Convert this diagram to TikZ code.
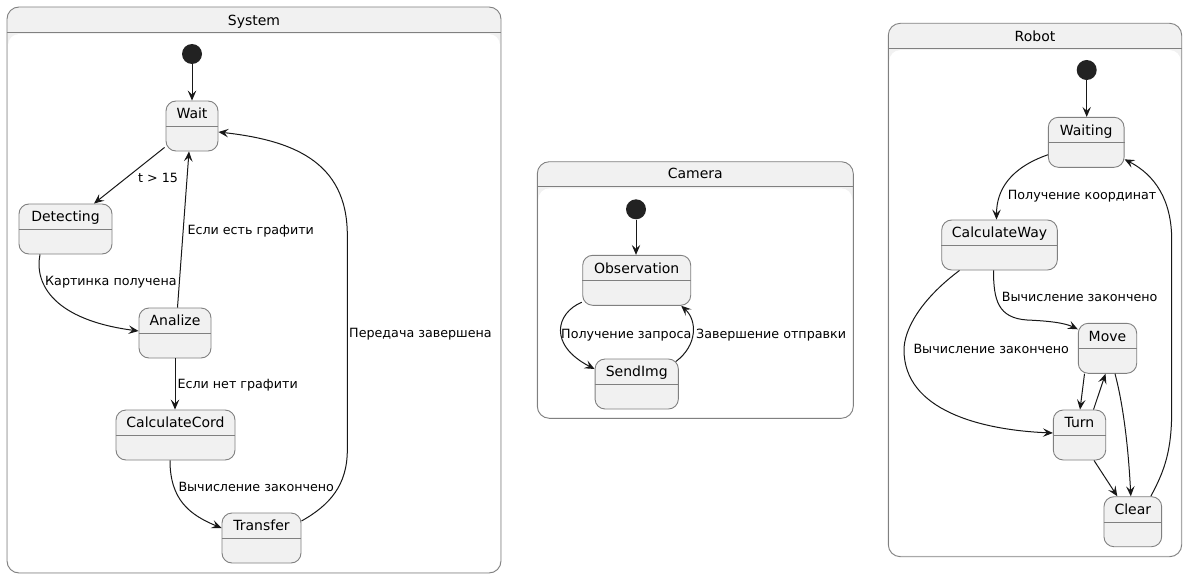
\documentclass[tikz,border=0pt]{standalone}
\usepackage{fontspec}
\setmainfont{DejaVu Sans}
\usetikzlibrary{arrows.meta,calc}
\definecolor{stfill}{HTML}{F1F1F1}
\definecolor{ink}{HTML}{181818}
\definecolor{edge}{HTML}{808080}
\definecolor{dotc}{HTML}{222222}

\tikzset{
  stbody/.style={draw=edge, line width=0.9pt, fill=stfill, rounded corners=10pt,
                 minimum height=50pt, inner sep=0pt},
  sttext/.style={anchor=base, inner sep=0pt, font=\fontsize{14}{16}\selectfont},
  sepline/.style={draw=edge, line width=0.9pt},
  initdot/.style={circle, fill=dotc, minimum size=20pt, inner sep=0pt},
  trans/.style={draw=ink, line width=1pt, -{Stealth[length=10pt,width=8.5pt,inset=4pt]}},
  lbl/.style={anchor=base west, inner sep=0pt, font=\fontsize{12.7}{15}\selectfont},
  contbox/.style={draw=edge, line width=0.9pt, fill=stfill, rounded corners=12pt, inner sep=0pt},
  conttitle/.style={anchor=base, inner sep=0pt, font=\fontsize{14}{16}\selectfont},
}

% state: name, centre x, top y, width, title
\newcommand\mkstate[5]{%
  \node[stbody, minimum width=#4pt] (#1) at (#2,#3+25) {};
  \draw[sepline] ([yshift=-26pt]#1.north west) -- ([yshift=-26pt]#1.north east);
  \node[sttext] (#1-name) at ([yshift=-18.3pt]#1.north) {#5};
}
% composite state: name, x1, y1, x2, y2, header y, title, title baseline
\newcommand\mkcont[8]{%
  \node[contbox, minimum width={#4-#2}, minimum height={#5-#3}] (#1) at ({(#2+#4)/2},{(#3+#5)/2}) {};
  \fill[white, rounded corners=11pt] ($(#1.north west)+(1.5,#6-#3+1.5)$) rectangle ($(#1.south east)+(-1.5,-1.5)$);
  \draw[sepline] ($(#1.north west)+(0,#6-#3)$) -- ($(#1.north east)+(0,#6-#3)$);
  \node[conttitle] (#1-title) at ($(#1.north)+(0,#8-#3)$) {#7};
}

\begin{document}
\begin{tikzpicture}[x=1pt,y=-1pt]
\useasboundingbox (0,0) rectangle (1188,578);

% composite states
\mkcont{sys}{7}{7}{501}{573}{33}{System}{26}
\mkcont{cam}{537.3}{161.7}{853.3}{418.3}{187.3}{Camera}{179.3}
\mkcont{rob}{888.3}{23.3}{1181.7}{556.7}{49}{Robot}{41.7}

% System
\node[initdot] (s0) at (192,54) {};
\mkstate{wait}{192}{101}{52}{Wait}
\mkstate{det}{65.5}{204}{93}{Detecting}
\mkstate{ana}{175}{308}{72}{Analize}
\mkstate{cc}{175.5}{410}{119}{CalculateCord}
\mkstate{trf}{261.5}{513}{79}{Transfer}

\draw[trans] (s0) -- (wait);
\draw[trans] ([xshift=-1pt,yshift=4pt]wait.south west) -- ([xshift=28.5pt]det.north);
\node[lbl] (l1) at (138,182.3) {t > 15};
\draw[trans] ([xshift=-25.5pt]det.south) .. controls (34,285) and (55,320) .. ([yshift=2pt]ana.west);
\node[lbl] (l2) at (45,285.7) {Картинка получена};
\draw[trans] ([xshift=2.5pt]ana.north) -- ([xshift=-3pt]wait.south);
\node[lbl] (l3) at (187.3,234.7) {Если есть графити};
\draw[trans] (ana.south) -- (ana.south |- cc.north);
\node[lbl] (l4) at (177.3,388.7) {Если нет графити};
\draw[trans] ([xshift=-5.5pt]cc.south) .. controls (170,500) and (190,515) .. ([yshift=10pt]trf.west);
\node[lbl] (l5) at (178.3,491.3) {Вычисление закончено};
\draw[trans] ([yshift=17pt]trf.east) .. controls (330,505) and (347.3,485) .. (347.3,450)
  -- (347.3,235) .. controls (347.3,160) and (290,140) .. ([yshift=-6pt]wait.east);
\node[lbl] (l6) at (349,337.3) {Передача завершена};

% Camera
\node[initdot] (c0) at (636,209.3) {};
\mkstate{obs}{636.7}{255.3}{108}{Observation}
\mkstate{send}{636.7}{359}{83.3}{SendImg}

\draw[trans] (c0.south) -- (c0.south |- obs.north);
\draw[trans] ([xshift=-0.5pt,yshift=3.5pt]obs.south west) .. controls (556,313) and (548,345) .. ([yshift=15pt]send.west);
\node[lbl] (l7) at (561,338.3) {Получение запроса};
\draw[trans] ([xshift=-3pt,yshift=-3pt]send.north east) .. controls (698,345) and (697,320) .. ([xshift=-10pt]obs.south east);
\node[lbl] (l8) at (696,338.3) {Завершение отправки};

% Robot
\node[initdot] (r0) at (1086.7,70) {};
\mkstate{wtg}{1086.2}{117.3}{75.7}{Waiting}
\mkstate{cw}{999.5}{220}{115.6}{CalculateWay}
\mkstate{mv}{1107.5}{323.3}{58.4}{Move}
\mkstate{tn}{1079.5}{410}{52.4}{Turn}
\mkstate{cl}{1132.8}{496.7}{57.7}{Clear}

\draw[trans] (r0.south) -- (r0.south |- wtg.north);
\draw[trans] ([yshift=13pt]wtg.south west) .. controls (1010,168) and (996.5,190) .. ([xshift=-3pt]cw.north);
\node[lbl] (l9) at (1007.7,199) {Получение координат};
\draw[trans] ([xshift=-6pt]cw.south) .. controls (993.5,300) and (998,318) .. (1027,320)
  .. controls (1050,321) and (1065,323) .. ([yshift=19pt]mv.west);
\node[lbl] (l10) at (1001.7,301.7) {Вычисление закончено};
\draw[trans] ([xshift=-40pt]cw.south) .. controls (920,300) and (904,330) .. (904,350)
  .. controls (904,410) and (980,430) .. ([yshift=2pt]tn.west);
\node[lbl] (l11) at (913.3,353.3) {Вычисление закончено};
\draw[trans] ([xshift=-23pt]mv.south) -- ([xshift=0.5pt]tn.north);
\draw[trans] ([xshift=14pt]tn.north) -- ([xshift=-2pt]mv.south);
\draw[trans] ([xshift=7.5pt]mv.south) .. controls (1122,400) and (1128,440) .. ([xshift=-2pt]cl.north);
\draw[trans] ([xshift=14.5pt]tn.south) -- ([xshift=-15.5pt]cl.north);
\draw[trans] ([xshift=18pt]cl.north) .. controls (1165,470) and (1171.7,450) .. (1171.7,410)
  -- (1171.7,240) .. controls (1171.7,200) and (1155,175) .. ([yshift=-17pt]wtg.east);
\end{tikzpicture}
\end{document}
